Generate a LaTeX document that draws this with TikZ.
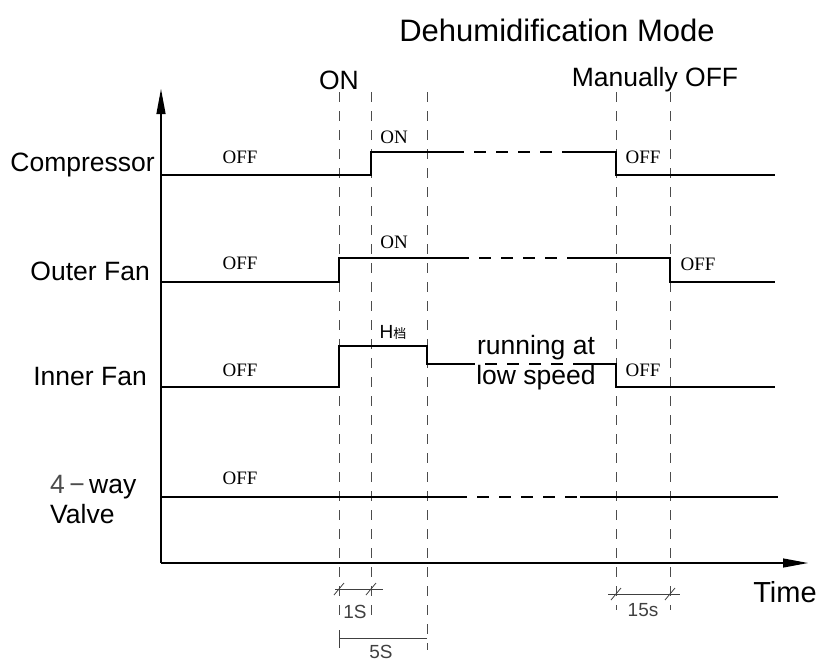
\documentclass[tikz,border=0pt]{standalone}
\usepackage{fontspec}
\setmainfont{Liberation Sans}
\newfontfamily\timesfont{Liberation Serif}
\newfontfamily\cjk{Noto Sans CJK SC}
\usetikzlibrary{arrows.meta, positioning, calc}

\begin{document}
\begin{tikzpicture}[
  x=1pt, y=-1pt,
  >={Triangle[length=25pt, width=9pt]},
  axis/.style={line width=1.2pt, ->},
  signal/.style={line width=1.1pt},
  gapline/.style={signal, dash pattern=on 12pt off 10pt},
  guide/.style={line width=0.8pt, draw=black!70, dash pattern=on 10pt off 9pt},
  headline/.style={font=\fontsize{31}{35}\selectfont},
  tag/.style={font=\fontsize{26.5}{30}\selectfont, align=left, inner sep=0pt},
  statetxt/.style={font=\timesfont\fontsize{19}{22}\selectfont, inner sep=0pt},
  dimline/.style={line width=0.8pt, draw=black!75},
  spantxt/.style={font=\fontsize{19}{22}\selectfont, text=black!75, inner sep=0pt}
]
  \useasboundingbox (0,0) rectangle (824,661);

  % Titel und Achsen ==============================
  \node[headline] (mode) at (557,30) {Dehumidification Mode};
  \coordinate (origin) at (161,563);
  \draw[axis] (origin) -- (161,89) coordinate (ytip);
  \draw[axis] (origin) -- (808,563) coordinate (xtip);
  \node[tag, font=\fontsize{29}{32}\selectfont] (time) at (785,592) {Time};

  % Zeitmarken
  \node[tag] (on) at (339,80) {ON};
  \node[tag] (manoff) at (655,80) {Manually OFF};
  \foreach \x/\e in {339/620, 371/620, 427/650, 616/610, 670/610}
    \draw[guide] (\x,92) -- (\x,\e);

  % Signalnamen
  \node[tag, anchor=east] (comp) at (155,165) {Compressor};
  \node[tag, anchor=east] (outer) at (150,271) {Outer Fan};
  \node[tag, anchor=east] (inner) at (147,377) {Inner Fan};
  \node[tag, anchor=west] (valve) at (50,500) {{\color{black!70}4\,−\,}way\\Valve};

  % Kompressor
  \draw[signal] (161,175) -- (371,175) -- (371,152) -- (452,152);
  \draw[gapline] (452,152) -- (573,152);
  \draw[signal] (573,152) -- (616,152) -- (616,175) -- (775,175);
  \node[statetxt] (c1) at (240,157) {OFF};
  \node[statetxt] (c2) at (394,137) {ON};
  \node[statetxt] (c3) at (643,157) {OFF};

  % Aussenluefter
  \draw[signal] (161,282) -- (339,282) -- (339,258) -- (457,258);
  \draw[gapline] (457,258) -- (577,258);
  \draw[signal] (577,258) -- (670,258) -- (670,282) -- (775,282);
  \node[statetxt] (o1) at (240,263) {OFF};
  \node[statetxt] (o2) at (394,242) {ON};
  \node[statetxt] (o3) at (698,264) {OFF};

  % Innenluefter
  \draw[signal] (161,387) -- (339,387) -- (339,346) -- (427,346) -- (427,364) -- (463,364);
  \draw[gapline] (463,364) -- (578,364);
  \draw[signal] (578,364) -- (616,364) -- (616,387) -- (775,387);
  \node[statetxt] (i1) at (240,370) {OFF};
  \node[tag, font=\fontsize{19}{22}\selectfont] (i2) at (393,332) {H{\cjk\fontsize{13}{15}\selectfont 档}};
  \node[tag] (run) at (536,348) {running at};
  \node[tag] (low) at (536,378) {low speed};
  \node[statetxt] (i3) at (643,370) {OFF};

  % 4-Wege-Ventil
  \draw[signal] (161,497) -- (455,497);
  \draw[gapline] (455,497) -- (580,497);
  \draw[signal] (580,497) -- (778,497);
  \node[statetxt] (v1) at (240,478) {OFF};

  % Bemassung
  \draw[dimline] (335,589) -- (383,589);
  \foreach \x in {339, 371}
    \draw[dimline] (\x-5,595) -- (\x+5,583);
  \node[spantxt] (s1) at (355,612) {1S};
  \draw[dimline] (608,594) -- (680,594);
  \foreach \x in {616, 670}
    \draw[dimline] (\x-5,600) -- (\x+5,588);
  \node[spantxt] (s15) at (643,610) {15s};
  \draw[dimline] (339,630) -- (339,648);
  \draw[dimline] (339,638) -- (427,638);
  \node[spantxt] (s5) at (381,652) {5S};
\end{tikzpicture}
\end{document}
